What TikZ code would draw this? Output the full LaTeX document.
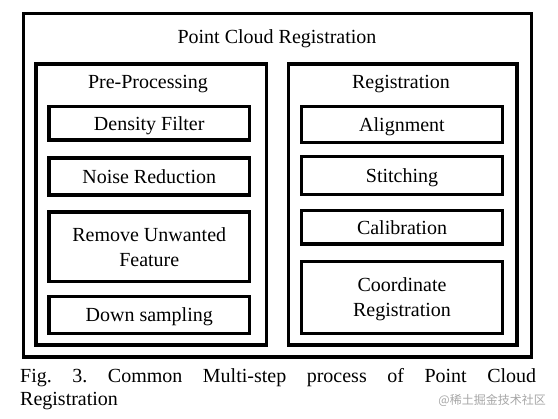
\documentclass[tikz,border=0pt]{standalone}
\usepackage{fontspec}
\setmainfont{Liberation Serif}
\newfontfamily\cjkfont{Noto Sans CJK SC}
\begin{document}
\begin{tikzpicture}[x=1pt,y=-1pt,
  box/.style={draw=black, line width=3.5pt, rectangle, inner sep=0pt, fill=none},
  lbl/.style={font=\fontsize{20}{25}\selectfont, inner sep=0pt, align=center, text depth=0pt}]
\useasboundingbox (0,0) rectangle (558,419);
% containers
\node[box, minimum width=508pt, minimum height=343.5pt] (outer) at (277.5,185.25) {};
\node[box, minimum width=230.5pt, minimum height=281pt] (pre) at (151.25,204.5) {};
\node[box, minimum width=228.5pt, minimum height=281pt] (reg) at (402.75,204.5) {};
% container labels
\node[lbl] (title) at (277,36.5) {Point Cloud Registration};
\node[lbl] (prelbl) at (148,81.5) {Pre-Processing};
\node[lbl] (reglbl) at (401,81.5) {Registration};
% left steps
\node[box, lbl, minimum width=200.5pt, minimum height=33.5pt] (df) at (149.25,123.25) {Density Filter};
\node[box, lbl, minimum width=200.5pt, minimum height=37pt] (nr) at (149.25,176.5) {Noise Reduction};
\node[box, lbl, minimum width=200.5pt, minimum height=69.5pt] (ru) at (149.25,246.75) {Remove Unwanted\\Feature};
\node[box, lbl, minimum width=200.5pt, minimum height=37pt] (ds) at (149.25,315) {Down sampling};
% right steps
\node[box, lbl, minimum width=201pt, minimum height=36pt] (al) at (402,124.5) {Alignment};
\node[box, lbl, minimum width=201pt, minimum height=38pt] (st) at (402,175.5) {Stitching};
\node[box, lbl, minimum width=201pt, minimum height=33.5pt] (ca) at (402,227.25) {Calibration};
\node[box, lbl, minimum width=201pt, minimum height=72pt] (co) at (402,297.5) {Coordinate\\Registration};
% caption
\node[font=\fontsize{20}{24}\selectfont, inner sep=0pt, text depth=0pt, anchor=west] (cap1) at (20,375)
  {\makebox[516pt][s]{Fig.\hfill 3.\hfill Common\hfill Multi-step\hfill process\hfill of\hfill Point\hfill Cloud}};
\node[font=\fontsize{20}{24}\selectfont, inner sep=0pt, text depth=0pt, anchor=west] (cap2) at (20,399) {Registration};
% watermark
\node[font=\cjkfont\fontsize{12}{14}\selectfont, text=black!35, inner sep=0pt, anchor=east] (wm) at (546,400) {@稀土掘金技术社区};
\end{tikzpicture}
\end{document}
